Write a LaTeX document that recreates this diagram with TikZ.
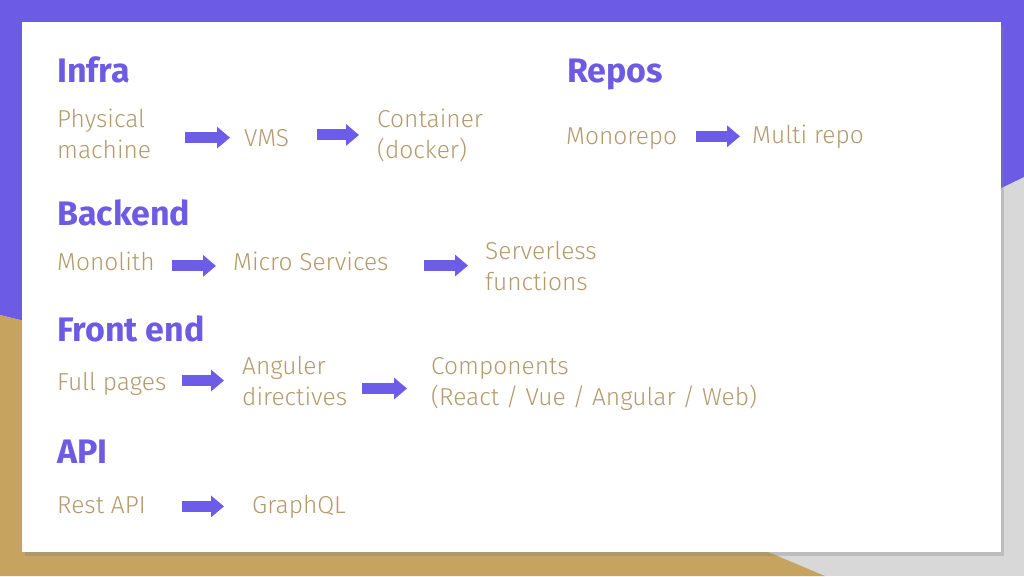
\documentclass[tikz,border=0pt]{standalone}
\usepackage{fontspec}
\setmainfont{Fira Sans}[UprightFont=* Light, BoldFont=* Bold]
\usepackage{tikz}
\usetikzlibrary{arrows.meta,positioning,shadows}

\definecolor{bandpurple}{HTML}{6C5CE5}
\definecolor{headpurple}{HTML}{6D5BE3}
\definecolor{arrowpurple}{HTML}{6C5CE7}
\definecolor{textgold}{HTML}{B49A6C}
\definecolor{bggold}{HTML}{C6A35F}
\definecolor{bggray}{HTML}{D8D8D8}

\begin{document}
\begin{tikzpicture}[
x=1pt,y=-1pt,
heading/.style={anchor=base west,inner sep=0pt,text=headpurple,font=\fontsize{34}{40}\selectfont\bfseries},
item/.style={anchor=base west,inner sep=0pt,text=textgold,align=left,font=\fontsize{24.5}{31}\selectfont},
flow/.style={arrowpurple,line width=11pt,-{Triangle[length=13pt,width=21pt]}}]
    % Background and card
    \useasboundingbox (0,0) rectangle (1024,576);
    \fill[bggray] (0,0) rectangle (1024,576);
    \fill[bandpurple] (0,0) -- (1024,0) -- (1024,177) -- (490,435) -- (0,315) -- cycle;
    \fill[bggold] (0,315) -- (490,435) -- (825,576) -- (0,576) -- cycle;
    \fill[white,drop shadow={shadow xshift=3pt,shadow yshift=-4pt,opacity=.3}] (22,22) rectangle (1001,552);

    % Infra and Repos
    \node[heading] (infra) at (57,82) {Infra};
    \node[heading] (repos) at (567,82) {Repos};
    \node[item] (pm) at (57,158) {Physical\\machine};
    \node[item] (vms) at (244,146) {VMS};
    \node[item] (cont) at (377,158) {Container\\(docker)};
    \node[item] (mono) at (566,144) {Monorepo};
    \node[item] (multi) at (752,143) {Multi repo};

    % Backend
    \node[heading] (backend) at (57,225) {Backend};
    \node[item] (monolith) at (57,270) {Monolith};
    \node[item] (micro) at (233,270) {Micro Services};
    \node[item] (sls) at (485,290) {Serverless\\functions};

    % Front end
    \node[heading] (front) at (57,341) {Front end};
    \node[item] (full) at (57,390) {Full pages};
    \node[item] (ang) at (242,405) {Anguler\\directives};
    \node[item] (comp) at (431,405) {Components\\(React / Vue / Angular / Web)};

    % API
    \node[heading] (api) at (57,463) {API};
    \node[item] (rest) at (57,513) {Rest API};
    \node[item] (gql) at (252,513) {GraphQL};

    % Arrows
    \draw[flow,shorten <=34pt,shorten >=14pt] (pm.east |- vms.west) -- (vms.west);
    \draw[flow,shorten <=28pt,shorten >=18pt] (vms.east |- cont.west) -- (cont.west);
    \draw[flow,shorten <=19pt,shorten >=12pt] (mono.east |- multi.west) -- (multi.west);
    \draw[flow,shorten <=17pt,shorten >=17pt] ([yshift=-5pt]monolith.east |- micro.west) -- ([yshift=-5pt]micro.west);
    \draw[flow,shorten <=35pt,shorten >=17pt] (micro.east |- sls.west) -- (sls.west);
    \draw[flow,shorten <=15pt,shorten >=18pt] (full.east |- ang.west) -- (ang.west);
    \draw[flow,shorten <=15pt,shorten >=24pt] ([yshift=-5pt]ang.east |- comp.west) -- ([yshift=-5pt]comp.west);
    \draw[flow,shorten <=36pt,shorten >=28pt] (rest.east |- gql.west) -- (gql.west);

\end{tikzpicture}
\end{document}
